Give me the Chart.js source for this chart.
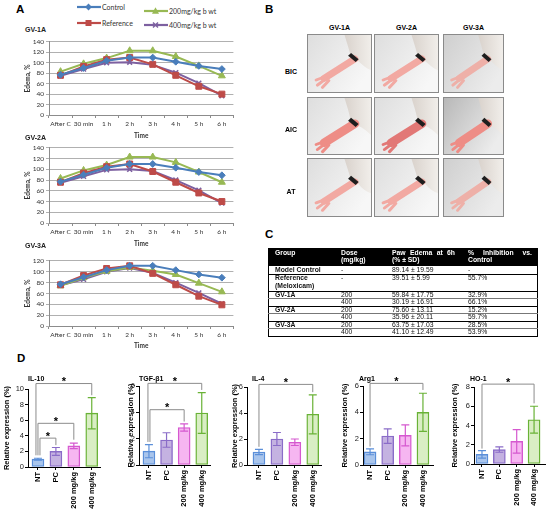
<!DOCTYPE html>
<html><head><meta charset="utf-8">
<script src="https://cdn.jsdelivr.net/npm/chart.js@4.4.1/dist/chart.umd.min.js"></script>
<style>
html,body{margin:0;padding:0;}
body{width:550px;height:512px;position:relative;overflow:hidden;background:#fff;font-family:"Liberation Sans",Arial,sans-serif;color:#000;}
canvas{position:absolute;}
.t{position:absolute;white-space:nowrap;line-height:1;transform:translateY(-50%);}
.c{transform:translate(-50%,-50%);}
.pl{font-weight:bold;font-size:11.5px;}
.gt{font-weight:bold;font-size:7px;color:#222;}
.lg{font-size:7px;font-family:Lato,"Liberation Sans",sans-serif;color:#333;}
.bh{font-weight:bold;font-size:7px;}
.dt{font-weight:bold;font-size:7px;}
.cell{position:absolute;border:1px solid #8a8a8a;box-sizing:border-box;overflow:hidden;background:#eee;}
.tb{font-size:6.8px;color:#111;}
.tbb{font-size:6.8px;font-weight:bold;color:#111;}
.tbh{font-size:6.8px;font-weight:bold;color:#fff;}
.ln{position:absolute;}
</style></head><body>
<script>
// ---------------- DATA ----------------
const timeLabels = ['After C','30 min','1 h','2 h','3 h','4 h','5 h','6 h'];
const seriesNames = ['Control','Reference','200mg/kg b wt','400mg/kg b wt'];
const gv1aControl   = [77, 90, 104, 110, 110, 102, 94, 88];
const gv1aReference = [76, 93, 106, 110, 97, 76, 55, 40];
const gv1a200       = [83, 98, 109, 123, 123, 112, 94, 75];
const gv1a400       = [75, 88, 100, 101, 96, 81, 61, 37];
const gv2aControl   = [77, 90, 103, 110, 110, 103, 95, 89];
const gv2aReference = [76, 93, 105, 110, 96, 76, 56, 40];
const gv2a200       = [83, 98, 108, 123, 123, 113, 95, 76];
const gv2a400       = [75, 87, 99, 100, 97, 80, 61, 37];
const gv3aControl   = [77, 90, 103, 111, 111, 103, 95, 89];
const gv3aReference = [76, 93, 106, 111, 97, 76, 55, 39];
const gv3a200       = [74, 89, 101, 108, 102, 95, 79, 63];
const gv3a400       = [75, 86, 100, 107, 98, 80, 61, 41];
const edemaTitles = ['GV-1A','GV-2A','GV-3A'];

const groupLabels = ['NT','PC','200 mg/kg','400 mg/kg'];
const il10Mean = [1.0, 2.0, 2.7, 6.9];
const il10Err  = [0.12, 0.5, 0.35, 2.0];
const tgfMean  = [1.05, 1.9, 2.85, 3.95];
const tgfErr   = [0.5, 0.55, 0.27, 1.55];
const il4Mean  = [1.0, 2.0, 1.75, 3.9];
const il4Err   = [0.2, 0.5, 0.25, 1.5];
const arg1Mean = [1.0, 2.2, 2.25, 4.0];
const arg1Err  = [0.22, 0.55, 0.8, 1.45];
const ho1Mean  = [1.0, 1.5, 2.35, 4.6];
const ho1Err   = [0.38, 0.28, 1.22, 1.4];
// significance brackets: [from, to, level, drop at from, drop at to]
const il10Brackets = [[0,1,3.7,1.5,2.8],[0,2,5.6,1.5,3.5],[0,3,10.7,1.5,9.2]];
const tgfBrackets  = [[0,2,4.2,1.75,3.3],[0,3,6.2,1.75,5.7]];
const il4Brackets  = [[0,3,6.2,1.4,5.6]];
const arg1Brackets = [[0,3,6.2,1.4,5.7]];
const ho1Brackets  = [[0,3,8.3,1.6,6.3]];

const tblGroup = ['Model Control','Reference','GV-1A','','GV-2A','','GV-3A',''];
const tblDose  = ['-','-','200','400','200','400','200','400'];
const tblEdema = ['89.14 ± 19.59','39.51 ± 5.99','59.84 ± 17.75','30.19 ± 16.91','75.60 ± 13.11','35.96 ± 20.11','63.75 ± 17.03','41.10 ± 12.49'];
const tblInhib = ['-','55.7%','32.9%','66.1%','15.2%','59.7%','28.5%','53.9%'];

// ---------------- STYLE ----------------
const lineColors = ['#4a7ebb','#be4b48','#98b954','#7d60a0'];
const pointStyles = ['rectRot','rect','triangle','crossRot'];
const pointRadii = [3.4,4.2,4,3.4];
const barFill = ['#a9c5ec','#c4b2e1','#f6b6f1','#d9eec4'];
const barLine = ['#5b8fd9','#8a6cc8','#d558cf','#69b236'];

Chart.defaults.animation = false;
Chart.defaults.responsive = false;
Chart.defaults.font.family = '"Liberation Sans", Arial, sans-serif';
Chart.defaults.plugins.legend.display = false;
Chart.defaults.plugins.tooltip.enabled = false;

const root = document.body;
function T(text,x,y,cls,extra){const d=document.createElement('div');d.className='t '+cls;d.textContent=text;d.style.left=x+'px';d.style.top=y+'px';if(extra)Object.assign(d.style,extra);root.appendChild(d);return d;}
function C(l,t,w,h){const c=document.createElement('canvas');c.width=w;c.height=h;c.style.left=l+'px';c.style.top=t+'px';c.style.width=w+'px';c.style.height=h+'px';root.appendChild(c);return c;}
function R(l,t,w,h,bg){const d=document.createElement('div');d.className='ln';Object.assign(d.style,{left:l+'px',top:t+'px',width:w+'px',height:h+'px',background:bg});root.appendChild(d);return d;}

// ---------------- PANEL LETTERS ----------------
T('A',16,10,'pl');T('B',265,10,'pl');T('C',265,235,'pl');T('D',17,359,'pl');

// ---------------- PANEL A ----------------
const legendPos = [[77,7],[77,23],[144,11],[144,25]];
seriesNames.forEach((n,i)=>{
  const [x,y]=legendPos[i];
  const s=document.createElementNS('http://www.w3.org/2000/svg','svg');
  s.setAttribute('width','24');s.setAttribute('height','10');
  Object.assign(s.style,{position:'absolute',left:x+'px',top:(y-5)+'px'});
  let m='';const c=lineColors[i];
  if(i===0)m=`<path d="M11.5,1.6 L14.9,5 L11.5,8.4 L8.1,5Z" fill="${c}"/>`;
  if(i===1)m=`<rect x="8.5" y="2" width="6" height="6" fill="${c}"/>`;
  if(i===2)m=`<path d="M11.5,1.2 L15,7.8 L8,7.8Z" fill="${c}"/>`;
  if(i===3)m=`<path d="M9,2.5 L14,7.5 M14,2.5 L9,7.5" stroke="${c}" stroke-width="1.5"/>`;
  s.innerHTML=`<line x1="0" y1="5" x2="24" y2="5" stroke="${c}" stroke-width="2.2"/>`+m;
  root.appendChild(s);
  T(n,x+25,y,'lg');
});

function makeLine(series, ymax, L, title){
  T(title,25,L.titleY,'gt');
  const cv=C(L.left,L.top,L.w,L.h);
  new Chart(cv,{
    type:'line',
    data:{labels:timeLabels,datasets:series.map((d,i)=>({
      label:seriesNames[i],data:d,borderColor:lineColors[i],backgroundColor:lineColors[i],
      borderWidth:2,pointStyle:pointStyles[i],pointRadius:pointRadii[i],pointBorderWidth:i===3?1.6:1,tension:0
    }))},
    options:{
      layout:{padding:{top:L.padT,right:L.padR,left:0,bottom:0}},
      scales:{
        x:{offset:true,grid:{offset:true,drawOnChartArea:false,drawTicks:true,tickLength:3,color:'#8c8c8c'},
           border:{color:'#8c8c8c'},
           ticks:{font:{family:'Lato',size:6.5},color:'#333',padding:2,maxRotation:0,autoSkip:false},
           title:{display:true,text:'Time',font:{family:'Lato',size:6.5,weight:'bold'},color:'#333',padding:0},
           afterFit:s=>{s.height=L.xh;}},
        y:{min:0,max:ymax,ticks:{stepSize:20,autoSkip:false,font:{family:'Lato',size:6.5},color:'#333',padding:2},
           grid:{color:'#b0b0b0',tickLength:3},border:{color:'#8c8c8c'},
           title:{display:true,text:'Edema, %',font:{family:'Lato',size:6.5,weight:'bold'},color:'#333',padding:0},
           afterFit:s=>{s.width=L.yw;}}
      }
    }
  });
}
makeLine([gv1aControl,gv1aReference,gv1a200,gv1a400],140,{left:24,top:36,w:215,h:104,yw:25,xh:25,padT:5,padR:3,titleY:29},edemaTitles[0]);
makeLine([gv2aControl,gv2aReference,gv2a200,gv2a400],140,{left:24,top:142,w:215,h:106,yw:25,xh:25,padT:5,padR:3,titleY:137},edemaTitles[1]);
makeLine([gv3aControl,gv3aReference,gv3a200,gv3a400],120,{left:24,top:255,w:215,h:95,yw:25,xh:24,padT:5,padR:3,titleY:245},edemaTitles[2]);

// ---------------- PANEL B (photo placeholders) ----------------
const photoCols=[[307,65],[374,65],[443,61]];
const photoRows=[[34,59],[97,58],[158,59]];
['GV-1A','GV-2A','GV-3A'].forEach((s,i)=>T(s,photoCols[i][0]+photoCols[i][1]/2,27,'bh c'));
[['BIC',71],['AIC',129],['AT',191]].forEach(([s,y])=>T(s,291,y,'bh c'));
for(let r=0;r<3;r++)for(let c=0;c<3;c++){
  const [x,w]=photoCols[c],[y,h]=photoRows[r];
  const div=document.createElement('div');div.className='cell';
  Object.assign(div.style,{left:x+'px',top:y+'px',width:w+'px',height:h+'px'});
  const paw = r===1 ? (c===1?'#e27876':'#ee8d86') : (c===2?'#eeb0a8':'#f2a9a2');
  const bg1 = c===2 ? (r===1?'#b8b8b8':'#cfcfcf') : '#dedede';
  const bg2 = c===2 ? '#ececec' : '#f7f7f7';
  const ty = [0,4,-2][r];
  div.innerHTML=`<svg width="${w-2}" height="${h-2}" viewBox="0 0 100 100" preserveAspectRatio="none" style="display:block">
  <defs><linearGradient id="g${r}${c}" x1="0" y1="0" x2="1" y2="0.6"><stop offset="0" stop-color="${bg1}"/><stop offset="1" stop-color="${bg2}"/></linearGradient>
  <linearGradient id="f${r}${c}" x1="0" y1="0" x2="1" y2="0"><stop offset="0" stop-color="#d9d2cc"/><stop offset="1" stop-color="#f1eeea"/></linearGradient></defs>
  <rect width="100" height="100" fill="url(#g${r}${c})"/>
  <path d="M58,0 H100 V${62+ty} C92,58 86,52 80,${46+ty} L68,${40+ty} C66,26 61,12 58,0Z" fill="url(#f${r}${c})"/>
  <path d="M74,${42+ty} L26,${76+ty}" stroke="${paw}" stroke-width="${r===1?15:12}" stroke-linecap="round"/>
  <path d="M30,${72+ty} L13,${79+ty} M28,${77+ty} L15,${88+ty} M33,${80+ty} L23,${92+ty}" stroke="${paw}" stroke-width="5" stroke-linecap="round"/>
  <path d="M66,${34+ty} L78,${45+ty}" stroke="#1e1e1e" stroke-width="7"/>
  </svg>`;
  root.appendChild(div);
}

// ---------------- PANEL C (table) ----------------
R(268,248,270,18,'#000');
R(268,248,1,89,'#000');R(537,248,1,89,'#000');R(268,336,270,1,'#000');
const hLines=[[273.5,1,'#000'],[290.5,1,'#000'],[298,0.6,'#777'],[305.5,1,'#000'],[313,0.6,'#777'],[320.5,1,'#000'],[328,0.6,'#777']];
hLines.forEach(([y,h,c])=>R(268,y,270,h,c));
T('Group',275,252.5,'tbh');T('Dose',341,252.5,'tbh');T('(mg/kg)',341,259.5,'tbh');
T('Paw Edema at 6h',392,252.5,'tbh',{width:63+'px',textAlign:'justify',textAlignLast:'justify',whiteSpace:'normal'});
T('(% ± SD)',392,259.5,'tbh');
T('% Inhibition vs.',468,252.5,'tbh',{width:64+'px',textAlign:'justify',textAlignLast:'justify',whiteSpace:'normal'});
T('Control',468,259.5,'tbh');
const rowY=[269.8,278,294.5,302,309.5,317,324.5,332.3];
rowY.forEach((y,i)=>{
  if(tblGroup[i])T(tblGroup[i],275,y,'tbb');
  T(tblDose[i],341,y,'tb');T(tblEdema[i],392,y,'tb');T(tblInhib[i],468,y,'tb');
});
T('(Meloxicam)',275,286,'tbb');

// ---------------- PANEL D ----------------
function barPlugin(err,brackets){
  return {id:'errbr',afterDatasetsDraw(chart){
    const ctx=chart.ctx,xs=chart.scales.x,ys=chart.scales.y;
    const pts=chart.data.datasets[0].data;
    ctx.save();
    pts.forEach((p,i)=>{
      const px=xs.getPixelForValue(p.x),y1=ys.getPixelForValue(p.y+err[i]),y0=ys.getPixelForValue(p.y-err[i]);
      ctx.strokeStyle=barLine[i];ctx.lineWidth=1.2;ctx.beginPath();
      ctx.moveTo(px,y0);ctx.lineTo(px,y1);
      ctx.moveTo(px-4,y1);ctx.lineTo(px+4,y1);
      ctx.moveTo(px-4,y0);ctx.lineTo(px+4,y0);ctx.stroke();
    });
    const n=brackets.length;
    brackets.forEach(([a,b,lev,da,db],k)=>{
      const off=(n-1)-2*k;
      const xa=xs.getPixelForValue(a)+off,xb=xs.getPixelForValue(b);
      const yl=ys.getPixelForValue(lev),ya=ys.getPixelForValue(da),yb=ys.getPixelForValue(db);
      ctx.strokeStyle='#8c8c8c';ctx.lineWidth=1;ctx.beginPath();
      ctx.moveTo(xa,ya);ctx.lineTo(xa,yl);ctx.lineTo(xb,yl);ctx.lineTo(xb,yb);ctx.stroke();
      ctx.fillStyle='#000';ctx.font='bold 11px "Liberation Sans", Arial';ctx.textAlign='center';ctx.textBaseline='alphabetic';
      ctx.fillText('*',(xa+xb)/2,yl+1.5);
    });
    ctx.restore();
  }};
}
function makeBar(title,mean,err,brackets,ymax,L){
  T(title,L.tx,378,'dt');
  const cv=C(L.left,370,L.w,142);
  new Chart(cv,{
    type:'bar',
    data:{datasets:[{data:mean.map((v,i)=>({x:i,y:v})),backgroundColor:barFill,borderColor:barLine,
      borderWidth:1.4,borderSkipped:false,barThickness:12}]},
    options:{
      layout:{padding:{top:L.padT,right:2,left:0,bottom:0}},
      scales:{
        x:{type:'linear',min:L.xmin,max:L.xmax,offset:false,
           afterBuildTicks:s=>{s.ticks=groupLabels.map((_,i)=>({value:i}));},
           ticks:{callback:v=>groupLabels[v],autoSkip:false,maxRotation:90,minRotation:90,
             font:{size:7.5,weight:'bold'},color:'#000',padding:2},
           grid:{display:true,offset:false,drawOnChartArea:false,tickLength:3,color:'#000'},
           border:{color:'#000',width:1},afterFit:s=>{s.height=L.xh;}},
        y:{min:0,max:ymax,ticks:{stepSize:2,autoSkip:false,font:{size:7.5},color:'#222',padding:1},
           grid:{drawOnChartArea:false,tickLength:3,color:'#000'},border:{color:'#000',width:1},
           title:{display:true,text:'Relative expression (%)',font:{size:7.5,weight:'bold'},color:'#000',padding:0},
           afterFit:s=>{s.width=L.yw;}}
      }
    },
    plugins:[barPlugin(err,brackets)]
  });
}
makeBar('IL-10',il10Mean,il10Err,il10Brackets,10,{tx:28,left:2,w:101,yw:26,padT:19,xh:45,xmin:-0.556,xmax:3.5});
makeBar('TGF-β1',tgfMean,tgfErr,tgfBrackets,6,{tx:139,left:126,w:87,yw:13,padT:16,xh:47,xmin:-0.565,xmax:3.51});
makeBar('IL-4',il4Mean,il4Err,il4Brackets,6,{tx:252,left:230,w:94,yw:17,padT:17,xh:47,xmin:-0.667,xmax:3.5});
makeBar('Arg1',arg1Mean,arg1Err,arg1Brackets,6,{tx:359,left:340,w:95,yw:23,padT:16,xh:47,xmin:-0.4,xmax:3.57});
makeBar('HO-1',ho1Mean,ho1Err,ho1Brackets,8,{tx:470,left:450,w:97,yw:24,padT:17,xh:48,xmin:-0.46,xmax:3.63});
</script>
</body></html>
